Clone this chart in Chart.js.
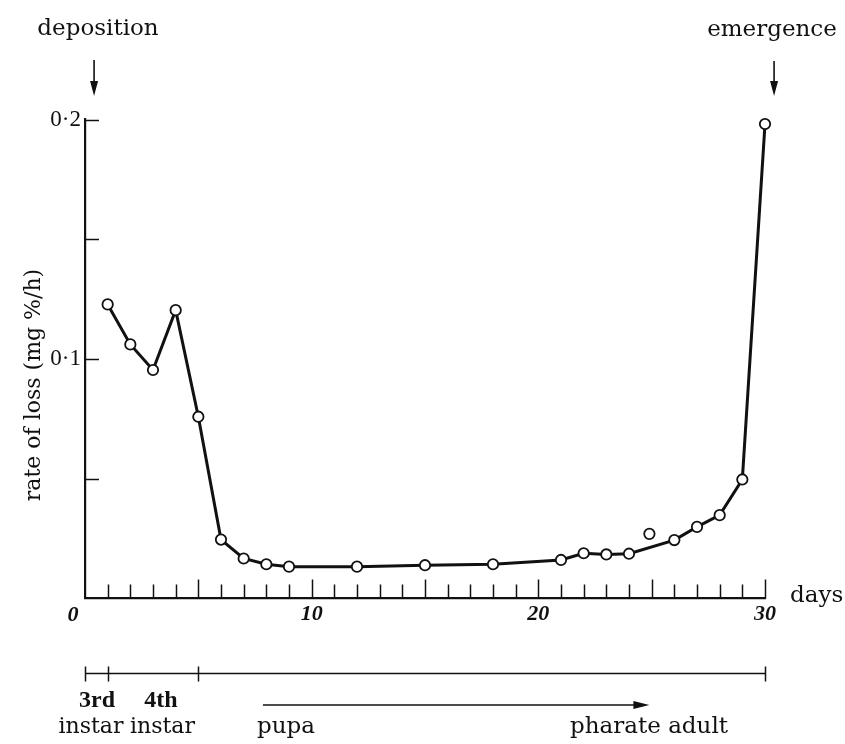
<!DOCTYPE html>
<html><head><meta charset="utf-8">
<script src="https://cdn.jsdelivr.net/npm/chart.js@4.4.1/dist/chart.umd.min.js"></script>
<style>html,body{margin:0;padding:0;background:#fff}#wrap{position:relative;width:845px;height:744px}</style>
</head><body><div id="wrap"><canvas id="c" width="845" height="744"></canvas></div>
<script>
// ---- data ----
const days  = [1, 2, 3, 4, 5, 6, 7, 8, 9, 12, 15, 18, 21, 22, 23, 24, 26, 27, 28, 29, 30];
const rates = [0.1228, 0.1061, 0.0954, 0.1204, 0.0759, 0.0246, 0.0167, 0.0143, 0.0133, 0.0133, 0.0139, 0.0143,
               0.0161, 0.0189, 0.0184, 0.0187, 0.0244, 0.0299, 0.0348, 0.0497, 0.1981];
const outlierDays  = [24.9];
const outlierRates = [0.0270];
const xTickLabels = {10: '10', 20: '20', 30: '30'};
const yTickLabels = {10: '0·1', 20: '0·2'};
const stageBounds = [0, 1, 5, 30];
const stageLabels = [['3rd', 'instar'], ['4th', 'instar']];
const phaseLabels = ['pupa', 'pharate adult'];
const yTitle = 'rate of loss (mg %/h)';

const INK = '#111';
const SERIF = '"DejaVu Serif", serif';
const LSERIF = '"Liberation Serif", serif';

const lineData = days.map((d, i) => ({x: d, y: rates[i]}));
const outData = outlierDays.map((d, i) => ({x: d, y: outlierRates[i]}));

function arrowDown(ctx, x, y1, y2) {
  ctx.beginPath(); ctx.moveTo(x, y1); ctx.lineTo(x, y2 - 10); ctx.stroke();
  ctx.beginPath(); ctx.moveTo(x, y2); ctx.lineTo(x - 4, y2 - 15); ctx.lineTo(x + 4, y2 - 15); ctx.closePath(); ctx.fill();
}

const decor = {
  id: 'decor',
  afterDraw(chart) {
    const ctx = chart.ctx, xs = chart.scales.x, ys = chart.scales.y;
    const ca = chart.chartArea;
    ctx.save();
    ctx.strokeStyle = INK; ctx.fillStyle = INK; ctx.lineWidth = 1.5; ctx.lineCap = 'butt';
    // inward ticks on x axis
    for (let d = 1; d <= 30; d++) {
      const x = Math.round(xs.getPixelForValue(d)) + 0.5;
      const len = d % 5 === 0 ? 19 : 14;
      ctx.beginPath(); ctx.moveTo(x, ca.bottom); ctx.lineTo(x, ca.bottom - len); ctx.stroke();
    }
    // inward ticks on y axis
    [0.05, 0.1, 0.15, 0.2].forEach(v => {
      const y = Math.round(ys.getPixelForValue(v)) + 0.5;
      ctx.beginPath(); ctx.moveTo(ca.left, y); ctx.lineTo(ca.left + 14, y); ctx.stroke();
    });
    // origin label
    ctx.font = 'italic bold 22px ' + LSERIF;
    ctx.textAlign = 'center'; ctx.textBaseline = 'alphabetic';
    ctx.fillText('0', ca.left - 12, ca.bottom + 22);
    // days
    ctx.font = '23px ' + SERIF; ctx.textAlign = 'left';
    ctx.fillText('days', ca.right + 25, ca.bottom + 3);
    // y title
    ctx.save();
    ctx.translate(40, 385); ctx.rotate(-Math.PI / 2);
    ctx.font = '22px ' + SERIF; ctx.textAlign = 'center';
    ctx.fillText(yTitle, 0, 0);
    ctx.restore();
    // top annotations
    ctx.font = '23px ' + SERIF; ctx.textAlign = 'center';
    ctx.fillText('deposition', 98, 35);
    ctx.fillText('emergence', 772, 36);
    ctx.lineWidth = 1.6;
    arrowDown(ctx, xs.getPixelForValue(0.4), 60, 96);
    arrowDown(ctx, xs.getPixelForValue(30.4), 61, 96);
    // stage timeline
    const ty = 673.5;
    ctx.lineWidth = 1.5;
    ctx.beginPath();
    ctx.moveTo(xs.getPixelForValue(stageBounds[0]), ty);
    ctx.lineTo(xs.getPixelForValue(stageBounds[stageBounds.length - 1]), ty);
    ctx.stroke();
    stageBounds.forEach(b => {
      const x = Math.round(xs.getPixelForValue(b)) + 0.5;
      ctx.beginPath(); ctx.moveTo(x, ty - 7); ctx.lineTo(x, ty + 8); ctx.stroke();
    });
    ctx.font = 'bold 24px ' + LSERIF; ctx.textAlign = 'center';
    ctx.fillText(stageLabels[0][0], 97, 707);
    ctx.fillText(stageLabels[1][0], 161, 707);
    ctx.font = '22px ' + SERIF;
    ctx.fillText(stageLabels[0][1], 91, 733);
    ctx.fillText(stageLabels[1][1], 162.5, 733);
    // pupa -> pharate adult arrow
    const ay = 705, ax1 = xs.getPixelForValue(7.85), ax2 = xs.getPixelForValue(24.9);
    ctx.lineWidth = 1.6;
    ctx.beginPath(); ctx.moveTo(ax1, ay); ctx.lineTo(ax2 - 10, ay); ctx.stroke();
    ctx.beginPath(); ctx.moveTo(ax2, ay); ctx.lineTo(ax2 - 16, ay - 4); ctx.lineTo(ax2 - 16, ay + 4); ctx.closePath(); ctx.fill();
    ctx.font = '23px ' + SERIF;
    ctx.fillText(phaseLabels[0], 286, 733);
    ctx.fillText(phaseLabels[1], 649, 733);
    ctx.restore();
  }
};

new Chart(document.getElementById('c'), {
  type: 'scatter',
  data: {
    datasets: [
      {
        data: lineData, showLine: true, tension: 0, clip: false,
        borderColor: INK, borderWidth: 3,
        pointRadius: 5.2, pointBorderWidth: 1.8,
        pointBackgroundColor: '#fff', pointBorderColor: INK,
        pointHoverRadius: 5.2
      },
      {
        data: outData, showLine: false, clip: false,
        pointRadius: 5.2, pointBorderWidth: 1.8,
        pointBackgroundColor: '#fff', pointBorderColor: INK
      }
    ]
  },
  options: {
    responsive: false, animation: false,
    layout: {padding: {left: 0, right: 80, top: 119.5, bottom: 0}},
    plugins: {legend: {display: false}, tooltip: {enabled: false}, title: {display: false}},
    scales: {
      x: {
        type: 'linear', min: 0, max: 30,
        afterFit: s => { s.height = 744 - 598.5; },
        grid: {display: false, drawTicks: false},
        border: {display: true, color: INK, width: 2.2},
        ticks: {
          stepSize: 10, autoSkip: false, maxRotation: 0, padding: 3, color: INK,
          font: {family: '"Liberation Serif", serif', size: 22, style: 'italic', weight: 'bold'},
          callback: v => xTickLabels[v] || ''
        }
      },
      y: {
        min: 0, max: 0.2,
        afterFit: s => { s.width = 85; },
        grid: {display: false, drawTicks: false},
        border: {display: true, color: INK, width: 2.2},
        ticks: {
          stepSize: 0.05, autoSkip: false, padding: 4, color: INK,
          font: {family: '"Liberation Serif", serif', size: 23},
          callback: v => yTickLabels[Math.round(v * 100)] || ''
        }
      }
    }
  },
  plugins: [decor]
});
</script>
</body></html>
